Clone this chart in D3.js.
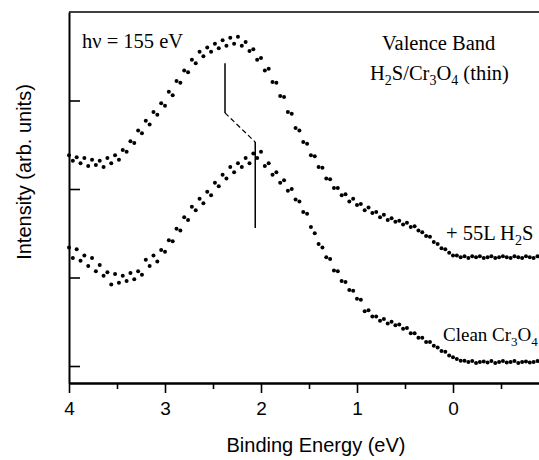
<!DOCTYPE html>
<html>
<head>
<meta charset="utf-8">
<script src="https://cdn.jsdelivr.net/npm/d3@7"></script>
<style>
  html, body { margin: 0; padding: 0; background: #fff; }
  svg { display: block; }
</style>
</head>
<body>
<div id="chart"></div>
<script>
(function() {
  var energies, h2sCounts, cleanCounts, xMajorTicks, xMinorTicks, yTicks, markerPath, labels;
  var width, height, x, y, svg, addText, drawDots;

  // binding energy (eV), shared by both spectra
  energies = [4.00, 3.96, 3.92, 3.88, 3.84, 3.80, 3.76, 3.72, 3.68, 3.64,
    3.60, 3.56, 3.52, 3.48, 3.44, 3.40, 3.36, 3.32, 3.28, 3.24,
    3.20, 3.16, 3.12, 3.08, 3.04, 3.00, 2.96, 2.92, 2.88, 2.84,
    2.80, 2.76, 2.72, 2.68, 2.64, 2.60, 2.56, 2.52, 2.48, 2.44,
    2.40, 2.36, 2.32, 2.28, 2.24, 2.20, 2.16, 2.12, 2.08, 2.04,
    2.00, 1.96, 1.92, 1.88, 1.84, 1.80, 1.76, 1.72, 1.68, 1.64,
    1.60, 1.56, 1.52, 1.48, 1.44, 1.40, 1.36, 1.32, 1.28, 1.24,
    1.20, 1.16, 1.12, 1.08, 1.04, 1.00, 0.96, 0.92, 0.88, 0.84,
    0.80, 0.76, 0.72, 0.68, 0.64, 0.60, 0.56, 0.52, 0.48, 0.44,
    0.40, 0.36, 0.32, 0.28, 0.24, 0.20, 0.16, 0.12, 0.08, 0.04,
    0.00, -0.04, -0.08, -0.12, -0.16, -0.20, -0.24, -0.28, -0.32, -0.36,
    -0.40, -0.44, -0.48, -0.52, -0.56, -0.60, -0.64, -0.68, -0.72, -0.76,
    -0.80, -0.84, -0.88];

  // + 55L H2S (upper trace, offset)
  h2sCounts = [238, 232, 236, 229, 235, 226, 233, 227, 232, 225,
    235, 229, 238, 233, 244, 242, 254, 252, 266, 263,
    277, 273, 287, 284, 297, 294, 310, 306, 322, 320,
    334, 332, 346, 342, 355, 350, 360, 355, 364, 359,
    368, 362, 371, 364, 372, 362, 366, 356, 358, 346,
    348, 334, 336, 321, 320, 305, 304, 287, 285, 269,
    266, 253, 251, 238, 237, 225, 224, 212, 211, 201,
    201, 193, 194, 186, 189, 182, 183, 176, 179, 173,
    174, 168, 171, 165, 167, 163, 164, 160, 162, 157,
    158, 153, 151, 147, 146, 140, 138, 133, 132, 128,
    125, 125, 123, 124, 122, 124, 123, 124, 122, 123,
    124, 122, 123, 124, 123, 122, 124, 123, 122, 124,
    123, 122, 124];

  // clean Cr3O4 (lower trace)
  cleanCounts = [134, 122, 132, 119, 125, 113, 122, 107, 114, 102,
    106, 92, 104, 94, 102, 96, 105, 98, 107, 103,
    120, 113, 125, 118, 131, 129, 142, 141, 155, 153,
    168, 165, 180, 176, 189, 184, 197, 193, 207, 203,
    216, 212, 225, 219, 229, 225, 235, 229, 240, 235,
    242, 226, 229, 216, 219, 207, 210, 198, 200, 188,
    186, 174, 172, 157, 150, 138, 134, 123, 121, 108,
    107, 96, 95, 86, 85, 76, 75, 62, 63, 56,
    56, 51, 53, 48, 50, 46, 47, 42, 43, 37,
    37, 32, 32, 27, 27, 23, 21, 17, 16, 12,
    10, 8, 6, 6, 4.5, 5.7, 3.4, 4.5, 5.1, 4.0,
    5.7, 3.4, 4.5, 5.7, 4.0, 4.5, 5.7, 3.4, 4.5, 5.1,
    4.0, 4.5, 5.7];

  xMajorTicks = [4, 3, 2, 1, 0];
  xMinorTicks = [3.5, 2.5, 1.5, 0.5, -0.5];
  yTicks = [0, 100, 200, 300];

  // peak shift marker: [energy, intensity]
  markerPath = [[2.375, 342], [2.375, 286], [2.06, 253], [2.06, 156]];

  width = 539;
  height = 460;

  x = d3.scaleLinear().domain([4, -1]).range([69, 549]);
  y = d3.scaleLinear().domain([-19.2, 400]).range([383, 12]);

  svg = d3.select("#chart").append("svg").attr("width", width).attr("height", height);

  // top frame line
  svg.append("line").attr("x1", x(4)).attr("x2", x(-1)).attr("y1", y(400)).attr("y2", y(400))
    .style("stroke", "#000").style("stroke-width", 1.6);

  // x axis, major + minor ticks
  svg.append("g").attr("class", "xaxis").attr("transform", "translate(0," + y(-19.2) + ")")
    .call(d3.axisBottom(x).tickValues(xMajorTicks).tickSize(10).tickSizeOuter(0).tickPadding(9).tickFormat(d3.format("d")));
  svg.append("g").attr("class", "xaxis minor").attr("transform", "translate(0," + y(-19.2) + ")")
    .call(d3.axisBottom(x).tickValues(xMinorTicks).tickSize(6).tickSizeOuter(0).tickFormat(""));

  // y axis, ticks pointing in, no labels
  svg.append("g").attr("class", "yaxis").attr("transform", "translate(" + x(4) + ",0)")
    .call(d3.axisLeft(y).tickValues(yTicks).tickSize(-11).tickSizeOuter(0).tickFormat(""));

  svg.selectAll(".domain").style("stroke", "#000").style("stroke-width", 2);
  svg.selectAll(".tick line").style("stroke", "#000").style("stroke-width", 1.6);
  svg.selectAll(".xaxis .tick text").style("font-family", "'Liberation Sans', Arial, sans-serif")
    .style("font-size", "19px").style("fill", "#000");

  drawDots = function(values) {
    svg.append("g").selectAll("circle").data(values).enter().append("circle")
      .attr("cx", function(d, i) { return x(energies[i]); })
      .attr("cy", function(d) { return y(d); })
      .attr("r", 2)
      .style("fill", "#000");
  };
  drawDots(h2sCounts);
  drawDots(cleanCounts);

  // marker lines: solid, dashed, solid
  svg.append("line").attr("x1", x(markerPath[0][0])).attr("y1", y(markerPath[0][1]))
    .attr("x2", x(markerPath[1][0])).attr("y2", y(markerPath[1][1]))
    .style("stroke", "#000").style("stroke-width", 1.5);
  svg.append("line").attr("x1", x(markerPath[1][0])).attr("y1", y(markerPath[1][1]))
    .attr("x2", x(markerPath[2][0])).attr("y2", y(markerPath[2][1]))
    .style("stroke", "#000").style("stroke-width", 1.2).style("stroke-dasharray", "5,3");
  svg.append("line").attr("x1", x(markerPath[2][0])).attr("y1", y(markerPath[2][1]))
    .attr("x2", x(markerPath[3][0])).attr("y2", y(markerPath[3][1]))
    .style("stroke", "#000").style("stroke-width", 1.5);

  // axis titles
  svg.append("text").attr("x", 316).attr("y", 452).attr("text-anchor", "middle")
    .style("font-family", "'Liberation Sans', Arial, sans-serif").style("font-size", "20px")
    .text("Binding Energy (eV)");
  svg.append("text").attr("transform", "translate(31,172) rotate(-90)").attr("text-anchor", "middle")
    .style("font-family", "'Liberation Sans', Arial, sans-serif").style("font-size", "20px")
    .text("Intensity (arb. units)");

  // serif annotations, parts flagged true are subscripts
  addText = function(px, py, size, parts) {
    var t = svg.append("text").attr("x", px).attr("y", py).attr("text-anchor", "start")
      .style("font-family", "'Liberation Serif', 'Times New Roman', serif").style("font-size", size + "px");
    var wasSub = false;
    parts.forEach(function(p) {
      var s = t.append("tspan").text(p[0]);
      if (p[1]) {
        s.attr("dy", 5).style("font-size", Math.round(size * 0.68) + "px");
        wasSub = true;
      } else if (wasSub) {
        s.attr("dy", -5);
        wasSub = false;
      }
    });
  };

  labels = [
    [82, 48, 20.5, [["h\u03bd = 155 eV"]]],
    [382, 50, 20.5, [["Valence Band"]]],
    [370, 80, 20.5, [["H"], ["2", true], ["S/Cr"], ["3", true], ["O"], ["4", true], [" (thin)"]]],
    [446, 240, 20.5, [["+ 55L H"], ["2", true], ["S"]]],
    [443, 341, 19, [["Clean Cr"], ["3", true], ["O"], ["4", true]]]
  ];
  labels.forEach(function(l) { addText(l[0], l[1], l[2], l[3]); });
}).call(this);
</script>
</body>
</html>
